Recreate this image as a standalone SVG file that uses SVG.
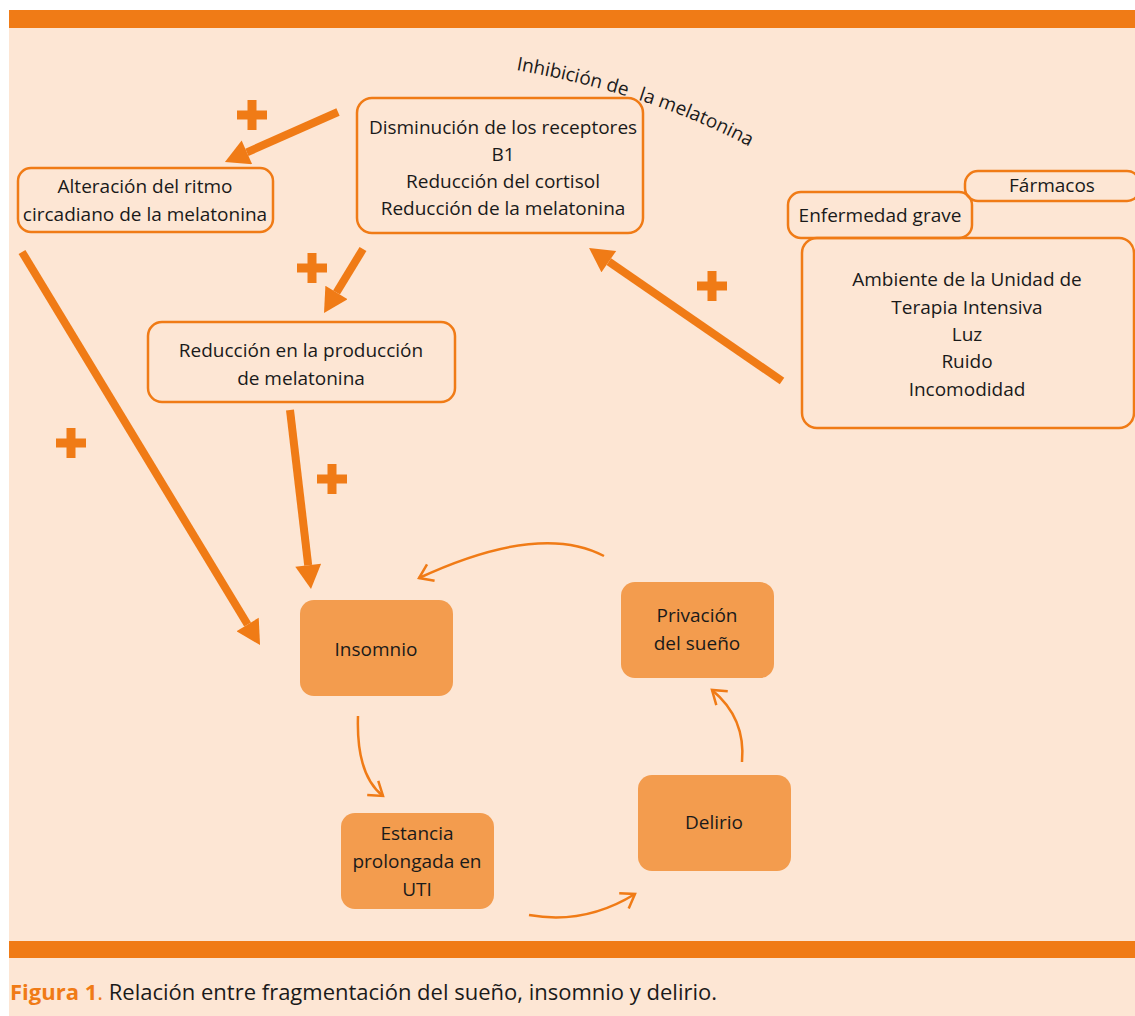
<svg xmlns="http://www.w3.org/2000/svg" width="1135" height="1016" viewBox="0 0 1135 1016">
<style>
.bg{fill:#FDE6D4}
.bar{fill:#F07B16}
.box{fill:none;stroke:#F07B16;stroke-width:2.5}
.fbox{fill:#F39C4E}
.t{font-family:"Open Sans",Lato,sans-serif;font-size:19px;fill:#1a1a1a;text-anchor:middle}
.arc{font-family:"Open Sans",Lato,sans-serif;font-size:19px;fill:#1a1a1a}
.thick{fill:none;stroke:#F07B16;stroke-width:8}
.thin{fill:none;stroke:#F07B16;stroke-width:2.5}
.plus{fill:none;stroke:#F07B16;stroke-width:9}
</style>
<defs>
<marker id="head" markerUnits="userSpaceOnUse" markerWidth="26" markerHeight="26" viewBox="0 0 24 26" refX="0" refY="13" orient="auto">
<path d="M0,0 L24,13 L0,26 z" fill="#F07B16"/>
</marker>
<marker id="chev" markerUnits="userSpaceOnUse" markerWidth="30" markerHeight="30" viewBox="-15 -15 30 30" refX="0" refY="0" orient="auto">
<path d="M-13,-9 L0,0 L-13,9" fill="none" stroke="#F07B16" stroke-width="2.5"/>
</marker>
<path id="arcpath" d="M516,70 C565,79 660,98 752,148" fill="none"/>
</defs>
<rect x="0" y="0" width="1135" height="1016" fill="#fff"/>
<rect class="bg" x="9" y="28" width="1126" height="988"/>
<rect class="bar" x="9" y="10" width="1126" height="18"/>
<rect class="bar" x="9" y="941" width="1126" height="17"/>

<g id="connectors">
<path class="thick" d="M338,112 L246.9,152.3" marker-end="url(#head)"/>
<path class="thick" d="M363,249 L336.5,292.5" marker-end="url(#head)"/>
<path class="thick" d="M290,410 L308.2,565.2" marker-end="url(#head)"/>
<path class="thick" d="M22,252 L247.6,624.5" marker-end="url(#head)"/>
<path class="thick" d="M782,381 L608.8,261.6" marker-end="url(#head)"/>
<path class="thin" d="M604,556 Q540,522 419,578" marker-end="url(#chev)"/>
<path class="thin" d="M358,716 Q356,775 383,796" marker-end="url(#chev)"/>
<path class="thin" d="M529,915 Q585,925 635,894" marker-end="url(#chev)"/>
<path class="thin" d="M742,762 Q746,718 712,690" marker-end="url(#chev)"/>
<g id="plus-signs">
<path class="plus" d="M237,115 h30 M252,100 v30"/>
<path class="plus" d="M297,268 h30 M312,253 v30"/>
<path class="plus" d="M56,443 h30 M71,428 v30"/>
<path class="plus" d="M317,479 h30 M332,464 v30"/>
<path class="plus" d="M697,286 h30 M712,271 v30"/>
</g>
</g>

<g id="label-inhibicion">
<text class="arc"><textPath href="#arcpath">Inhibición de</textPath></text>
<text class="arc"><textPath href="#arcpath" startOffset="126">la melatonina</textPath></text>
</g>

<g id="node-alteracion">
<rect class="box" x="18" y="168" width="255" height="64" rx="13"/>
<text class="t" x="145" y="193">Alteración del ritmo</text>
<text class="t" x="145" y="221">circadiano de la melatonina</text>
</g>

<g id="node-disminucion">
<rect class="box" x="357" y="98" width="286" height="135" rx="15"/>
<text class="t" x="503" y="134">Disminución de los receptores</text>
<text class="t" x="503" y="161">B1</text>
<text class="t" x="503" y="188">Reducción del cortisol</text>
<text class="t" x="503" y="215">Reducción de la melatonina</text>
</g>

<g id="node-farmacos">
<rect class="box" x="965" y="171" width="175" height="30" rx="13"/>
<text class="t" x="1052" y="192">Fármacos</text>
</g>

<g id="node-enfermedad">
<rect class="box" x="788" y="192" width="184" height="46" rx="13"/>
<text class="t" x="880" y="222">Enfermedad grave</text>
</g>

<g id="node-ambiente">
<rect class="box" x="802" y="238" width="332" height="190" rx="15"/>
<text class="t" x="967" y="286">Ambiente de la Unidad de</text>
<text class="t" x="967" y="314">Terapia Intensiva</text>
<text class="t" x="967" y="341">Luz</text>
<text class="t" x="967" y="368">Ruido</text>
<text class="t" x="967" y="396">Incomodidad</text>
</g>

<g id="node-reduccion">
<rect class="box" x="148" y="322" width="307" height="80" rx="14"/>
<text class="t" x="301" y="357">Reducción en la producción</text>
<text class="t" x="301" y="385">de melatonina</text>
</g>

<g id="node-insomnio">
<rect class="fbox" x="300" y="600" width="153" height="96" rx="14"/>
<text class="t" x="376" y="656">Insomnio</text>
</g>

<g id="node-privacion">
<rect class="fbox" x="621" y="582" width="153" height="96" rx="14"/>
<text class="t" x="697" y="622">Privación</text>
<text class="t" x="697" y="650">del sueño</text>
</g>

<g id="node-estancia">
<rect class="fbox" x="341" y="813" width="153" height="96" rx="14"/>
<text class="t" x="417" y="840">Estancia</text>
<text class="t" x="417" y="868">prolongada en</text>
<text class="t" x="417" y="896">UTI</text>
</g>

<g id="node-delirio">
<rect class="fbox" x="638" y="775" width="153" height="96" rx="14"/>
<text class="t" x="714" y="829">Delirio</text>
</g>

<g id="caption">
<text x="10" y="1000" style="font-family:'Open Sans',Lato,sans-serif;font-size:22px;fill:#1a1a1a"><tspan fill="#F07B16" font-weight="bold">Figura 1</tspan><tspan fill="#F07B16">.</tspan> Relación entre fragmentación del sueño, insomnio y delirio.</text>
</g>
</svg>
